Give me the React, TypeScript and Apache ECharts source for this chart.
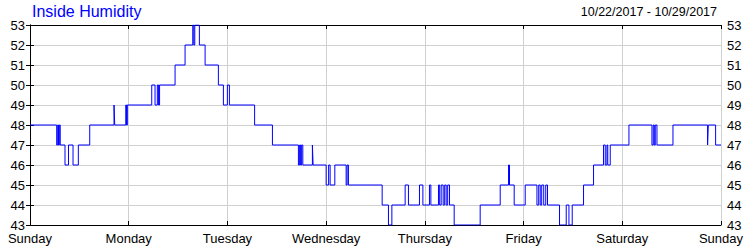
import React, { useEffect, useRef } from "react";
import * as echarts from "echarts";

const dayLabels = ["Sunday", "Monday", "Tuesday", "Wednesday", "Thursday", "Friday", "Saturday", "Sunday"];
const yTicks = [43, 44, 45, 46, 47, 48, 49, 50, 51, 52, 53];

// hours since Sunday 00:00 at which the reading changes, and the new reading
const hours = [
  0, 6.49, 6.74, 6.93, 7.13, 7.35, 8.51, 9.36, 10.46, 11.75, 14.52, 20.43, 20.6, 23.28, 23.47, 23.67,
  29.6, 30.4, 30.96, 31.26, 31.5, 35.27, 37.7, 39.57, 39.82, 40.06, 41.18, 42.57, 45.8, 47.02, 47.99, 48.48,
  54.61, 58.94, 65.26, 65.55, 65.79, 66.04, 66.33, 68.66, 68.83, 72.0, 72.6, 72.97, 74.11, 76.86, 77.1, 77.42,
  85.62, 87.15, 87.98, 91.21, 92.01, 94.69, 95.52, 97.12, 97.46, 99.31, 99.6, 99.97, 100.45, 100.82, 101.18,
  101.55, 101.99, 103.13, 109.45, 114.32, 116.34, 116.58, 117.72, 120.4, 123.25, 123.68, 124.05, 124.41,
  124.9, 125.39, 125.82, 128.74, 130.37, 131.03, 131.83, 134.58, 137.01, 139.44, 139.86, 140.27, 140.47,
  141.07, 145.62, 151.21, 151.53, 151.78, 152.02, 152.43, 156.32, 164.74, 164.91, 166.69, 168,
];
const humidity = [
  48, 47, 48, 47, 48, 47, 46, 47, 46, 47, 48, 49, 48, 49, 48, 49,
  50, 49, 50, 49, 50, 51, 52, 53, 52, 53, 52, 51, 50, 49, 50, 49,
  48, 47, 46, 47, 46, 47, 46, 47, 46, 45, 46, 45, 46, 45, 46, 45,
  44, 43, 44, 45, 44, 45, 44, 45, 44, 45, 44, 45, 44, 45, 44,
  45, 44, 43, 44, 45, 46, 45, 44, 45, 44, 45, 44, 45,
  44, 45, 44, 43, 44, 43, 44, 45, 46, 47, 46, 47, 46,
  47, 48, 47, 48, 47, 48, 47, 48, 47, 48, 47, 47,
];

const titleText = "Inside Humidity";
const dateRange = "10/22/2017 - 10/29/2017";

const FONT = "'Liberation Sans', Arial, sans-serif";

export default function App() {
  const ref = useRef<HTMLDivElement>(null);
  useEffect(() => {
    if (!ref.current) return;
    const chart = echarts.init(ref.current, null, { renderer: "svg" });
    const data = hours.map((h, i) => [h, humidity[i]]);
    const xCommon = {
      type: "value" as const,
      min: 0,
      max: 168,
      interval: 24,
      axisLine: { show: true, lineStyle: { color: "#000", width: 1 } },
      axisTick: { show: true, inside: true, length: 4, lineStyle: { color: "#000" } },
    };
    const yCommon = {
      type: "value" as const,
      min: yTicks[0],
      max: yTicks[yTicks.length - 1],
      interval: 1,
      axisLine: { show: true, lineStyle: { color: "#000", width: 1 } },
      axisTick: { show: true, inside: true, length: 4, lineStyle: { color: "#000" } },
    };
    chart.setOption({
      animation: false,
      backgroundColor: "#fff",
      textStyle: { fontFamily: FONT },
      title: [
        {
          text: titleText,
          left: 32,
          top: 3,
          padding: 0,
          textStyle: { fontSize: 16, fontWeight: "normal", color: "#0000ff", fontFamily: FONT },
        },
        {
          text: dateRange,
          right: 33,
          top: 5,
          padding: 0,
          textStyle: { fontSize: 12.5, fontWeight: "normal", color: "#000", fontFamily: FONT },
        },
      ],
      grid: { left: 30, right: 29, top: 25, bottom: 25, containLabel: false },
      xAxis: [
        {
          ...xCommon,
          position: "bottom",
          splitLine: { show: true, lineStyle: { color: "#d0d0d0", width: 1 } },
          axisLabel: {
            show: true,
            margin: 7,
            fontSize: 13,
            lineHeight: 13,
            color: "#000",
            fontFamily: FONT,
            showMinLabel: true,
            showMaxLabel: true,
            formatter: (v: number) => dayLabels[Math.round(v / 24)] ?? "",
          },
        },
        {
          ...xCommon,
          position: "top",
          splitLine: { show: false },
          axisLabel: { show: false },
        },
      ],
      yAxis: [
        {
          ...yCommon,
          position: "left",
          splitLine: { show: true, lineStyle: { color: "#d0d0d0", width: 1 } },
          axisLabel: { show: true, margin: 5, fontSize: 13, lineHeight: 12, color: "#000", fontFamily: FONT },
        },
        {
          ...yCommon,
          position: "right",
          splitLine: { show: false },
          axisLabel: { show: true, margin: 6, fontSize: 13, lineHeight: 12, color: "#000", fontFamily: FONT },
        },
      ],
      series: [
        {
          type: "line",
          step: "end",
          xAxisIndex: 0,
          yAxisIndex: 0,
          data,
          showSymbol: false,
          symbol: "none",
          lineStyle: { color: "#0000ff", width: 1 },
          silent: true,
        },
      ],
    });
    return () => chart.dispose();
  }, []);
  return (
    <div
      ref={ref}
      style={{ position: "absolute", left: 0, top: 0, width: 750, height: 250, background: "#fff" }}
    />
  );
}
